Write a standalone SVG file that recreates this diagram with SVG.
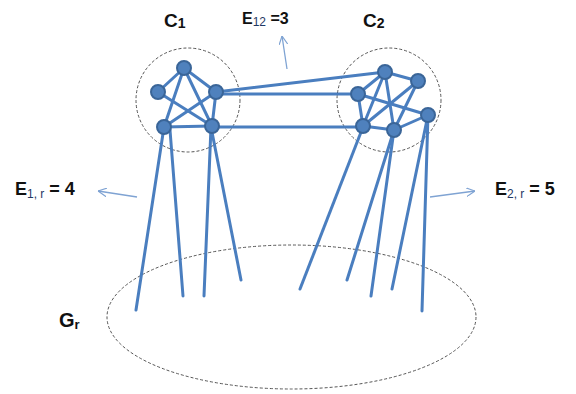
<svg xmlns="http://www.w3.org/2000/svg" width="576" height="394" viewBox="0 0 576 394">
<defs>
<style>
.e{stroke:#4a7ebf;stroke-width:3;fill:none;stroke-linecap:round}
.n{fill:#4f81bd;stroke:#3a6598;stroke-width:2}
.dash{fill:none;stroke:#555;stroke-width:1;stroke-dasharray:3,2}
.a{stroke:#7fa3d3;stroke-width:1.3;fill:none}
.t{font-family:"Liberation Sans",Arial,sans-serif;font-weight:bold;fill:#111}
.s{font-weight:normal;fill:#1f3864}
</style>
<marker id="arr" viewBox="0 0 10 10" refX="10" refY="5" markerWidth="9" markerHeight="9" orient="auto" markerUnits="userSpaceOnUse">
<path d="M0,0 L10,5 L0,10" fill="none" stroke="#7fa3d3" stroke-width="1.3"/>
</marker>
</defs>
<rect width="576" height="394" fill="#fff"/>
<g id="regions">
<circle class="dash" cx="188" cy="100" r="52"/>
<circle class="dash" cx="389" cy="100" r="52"/>
<ellipse class="dash" cx="291.5" cy="317" rx="184.5" ry="72"/>
</g>
<g id="connectors">
<!-- C1 internal -->
<line class="e" x1="184" y1="68" x2="158" y2="92"/>
<line class="e" x1="184" y1="68" x2="216" y2="92"/>
<line class="e" x1="184" y1="68" x2="164" y2="127"/>
<line class="e" x1="184" y1="68" x2="212" y2="126"/>
<line class="e" x1="158" y1="92" x2="212" y2="126"/>
<line class="e" x1="216" y1="92" x2="164" y2="127"/>
<line class="e" x1="164" y1="127" x2="212" y2="126"/>
<line class="e" x1="216" y1="92" x2="212" y2="126"/>
<!-- inter-cluster -->
<line class="e" x1="216" y1="92" x2="385" y2="72"/>
<line class="e" x1="216" y1="94" x2="358" y2="94"/>
<line class="e" x1="212" y1="127" x2="363" y2="127"/>
<!-- C2 internal -->
<line class="e" x1="385" y1="72" x2="418" y2="81"/>
<line class="e" x1="385" y1="72" x2="358" y2="94"/>
<line class="e" x1="385" y1="72" x2="363" y2="126"/>
<line class="e" x1="385" y1="72" x2="394" y2="130"/>
<line class="e" x1="358" y1="94" x2="363" y2="126"/>
<line class="e" x1="358" y1="94" x2="428" y2="115"/>
<line class="e" x1="418" y1="81" x2="363" y2="126"/>
<line class="e" x1="418" y1="81" x2="394" y2="130"/>
<line class="e" x1="363" y1="126" x2="394" y2="130"/>
<line class="e" x1="394" y1="130" x2="428" y2="115"/>
<!-- to Gr -->
<line class="e" x1="164" y1="127" x2="136" y2="310"/>
<line class="e" x1="170" y1="130" x2="183" y2="296"/>
<line class="e" x1="211" y1="127" x2="204" y2="296"/>
<line class="e" x1="211" y1="127" x2="241" y2="280"/>
<line class="e" x1="363" y1="127" x2="300" y2="289"/>
<line class="e" x1="394" y1="130" x2="347" y2="280"/>
<line class="e" x1="394" y1="130" x2="371" y2="296"/>
<line class="e" x1="428" y1="115" x2="392" y2="289"/>
<line class="e" x1="428" y1="115" x2="422" y2="311"/>
<!-- E arrows -->
<line class="a" x1="287" y1="69" x2="282" y2="36" marker-end="url(#arr)"/>
<line class="a" x1="137" y1="197" x2="98" y2="191" marker-end="url(#arr)"/>
<line class="a" x1="430" y1="197" x2="475" y2="191" marker-end="url(#arr)"/>
</g>
<g id="c1">
<circle class="n" cx="184" cy="68" r="7"/>
<circle class="n" cx="158" cy="92" r="7"/>
<circle class="n" cx="216" cy="92" r="7"/>
<circle class="n" cx="164" cy="127" r="7"/>
<circle class="n" cx="212" cy="126" r="7"/>
</g>
<g id="c2">
<circle class="n" cx="385" cy="72" r="7"/>
<circle class="n" cx="418" cy="81" r="7"/>
<circle class="n" cx="358" cy="94" r="7"/>
<circle class="n" cx="428" cy="115" r="7"/>
<circle class="n" cx="363" cy="126" r="7"/>
<circle class="n" cx="394" cy="130" r="7"/>
</g>
<g id="labels">
<text class="t" x="164" y="27" font-size="19">C<tspan font-size="14" dy="1">1</tspan></text>
<text class="t" x="363" y="27" font-size="19">C<tspan font-size="14" dy="1">2</tspan></text>
<text class="t" x="242" y="24" font-size="16">E<tspan class="s" font-size="12" dy="2">12</tspan><tspan dy="-2"> =3</tspan></text>
<text class="t" x="15" y="195" font-size="18">E<tspan class="s" font-size="12" dy="3">1, r</tspan><tspan dy="-3"> = 4</tspan></text>
<text class="t" x="495" y="195" font-size="18" font-weight="normal">E<tspan class="s" font-size="12" dy="3">2, r</tspan><tspan dy="-3"> = 5</tspan></text>
<text class="t" x="59" y="327" font-size="20">G<tspan font-size="13" dy="2">r</tspan></text>
</g>
</svg>
